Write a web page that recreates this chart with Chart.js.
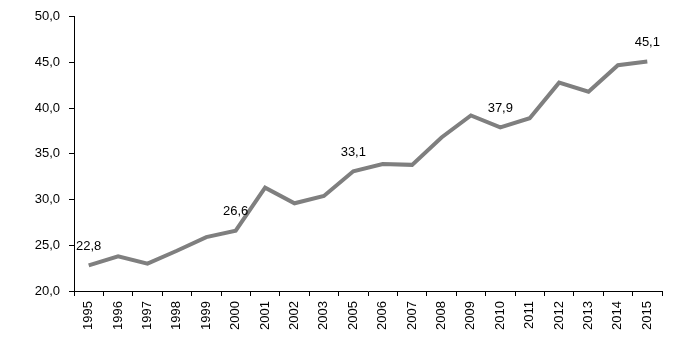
<!DOCTYPE html>
<html>
<head>
<meta charset="utf-8">
<script src="https://cdn.jsdelivr.net/npm/chart.js@4/dist/chart.umd.min.js"></script>
<style>
  html, body { margin: 0; padding: 0; background: #fff; }
  #wrap { width: 700px; height: 341px; }
</style>
</head>
<body>
<div id="wrap"><canvas id="lineChart"></canvas></div>
<script>
const years = ['1995', '1996', '1997', '1998', '1999', '2000', '2001', '2002', '2003', '2005',
  '2006', '2007', '2008', '2009', '2010', '2011', '2012', '2013', '2014', '2015'];
const values = [22.8, 23.8, 23.0, 24.4, 25.9, 26.6, 31.3, 29.6, 30.4, 33.1,
  33.9, 33.8, 36.8, 39.2, 37.9, 38.9, 42.8, 41.8, 44.7, 45.1];
const labelledYears = ['1995', '2000', '2005', '2010', '2015'];
const yMin = 20;
const yMax = 50;
const yStep = 5;

const fontFamily = '"Liberation Sans Narrow", "Arial Narrow", "Liberation Sans", Arial, sans-serif';

function fmt(v, d) {
  return v.toFixed(d).replace('.', ',');
}

// only a few points carry a value label
const valueLabels = {
  id: 'valueLabels',
  afterDatasetsDraw(chart) {
    const ctx = chart.ctx;
    const meta = chart.getDatasetMeta(0);
    ctx.save();
    ctx.font = '13px ' + fontFamily;
    ctx.fillStyle = '#000';
    ctx.textAlign = 'center';
    ctx.textBaseline = 'middle';
    years.forEach((y, i) => {
      if (labelledYears.indexOf(y) === -1) return;
      const pt = meta.data[i];
      ctx.fillText(fmt(values[i], 1), pt.x, pt.y - 19);
    });
    ctx.restore();
  }
};

const ctx = document.getElementById('lineChart').getContext('2d');
const lineChart = new Chart(ctx, {
  type: 'line',
  data: {
    labels: years,
    datasets: [{
      data: values,
      borderColor: '#7f7f7f',
      borderWidth: 4,
      pointRadius: 0,
      tension: 0,
      fill: false
    }]
  },
  options: {
    responsive: true,
    maintainAspectRatio: false,
    animation: false,
    layout: { padding: { top: 13, right: 38, left: 0, bottom: 0 } },
    plugins: {
      legend: { display: false },
      tooltip: { enabled: false }
    },
    scales: {
      x: {
        offset: true,
        grid: {
          display: true,
          offset: true,
          drawOnChartArea: false,
          tickLength: 5,
          color: '#000',
          lineWidth: 1
        },
        border: { color: '#000', width: 1 },
        ticks: {
          color: '#000',
          font: { family: fontFamily, size: 13 },
          minRotation: 90,
          maxRotation: 90,
          padding: 5,
          autoSkip: false
        },
        afterFit(scale) { scale.height = 50; }
      },
      y: {
        min: yMin,
        max: yMax,
        grid: {
          display: true,
          drawOnChartArea: false,
          tickLength: 5,
          color: '#000'
        },
        border: { color: '#000', width: 1 },
        ticks: {
          stepSize: yStep,
          color: '#000',
          padding: 9,
          font: { family: fontFamily, size: 13 },
          callback: v => fmt(v, 1)
        },
        afterFit(scale) { scale.width = 74; }
      }
    }
  },
  plugins: [valueLabels]
});
</script>
</body>
</html>
